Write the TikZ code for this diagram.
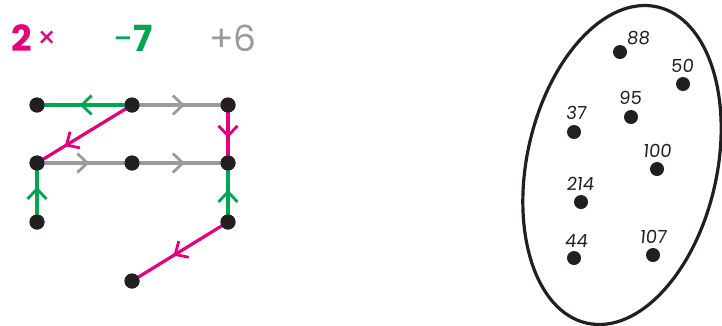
\documentclass[tikz,border=0pt]{standalone}
\usepackage{fontspec}
\setmainfont{Poppins}
\newfontfamily\lblfont[FakeSlant=0.1]{Poppins}
\usetikzlibrary{decorations.markings,shapes.geometric}
\definecolor{pk}{HTML}{E6007E}
\definecolor{gn}{HTML}{00A651}
\definecolor{gy}{HTML}{9A9B9D}
\definecolor{dt}{HTML}{231F20}
\tikzset{
  dot/.style={circle,fill=dt,inner sep=0pt,minimum size=15pt},
  sdot/.style={circle,fill=dt,inner sep=0pt,minimum size=14pt},
  lbl/.style={font=\lblfont\fontsize{18}{18}\selectfont,text=dt,inner sep=0pt},
  edge/.style={line width=3.2pt},
  chev/.style={postaction={decorate,decoration={markings,
    mark=at position #1 with {\draw[line width=2.8pt,line cap=butt,line join=miter] (-10pt,9.5pt) -- (0pt,0pt) -- (-10pt,-9.5pt);}}}},
}
\begin{document}
\begin{tikzpicture}[x=1pt,y=-1pt]
\useasboundingbox (0,0) rectangle (722,325);
% header
\node[text=pk,inner sep=0pt,font=\bfseries\fontsize{36}{36}\selectfont] (h2) at (22,38) {2};
\node[text=pk,inner sep=0pt,font=\fontsize{30}{30}\selectfont] (hx) at (47,40) {×};
\node[text=gn,inner sep=0pt,font=\fontsize{36}{36}\selectfont] (h7) at (133,38) {−\textbf{7}};
\node[text=gy,inner sep=0pt,font=\fontsize{36}{36}\selectfont] (h6) at (233,38) {+6};
% grid nodes
\node[dot] (a1) at (37,105) {};
\node[dot] (a2) at (132,105) {};
\node[dot] (a3) at (228,105) {};
\node[dot] (b1) at (37,163) {};
\node[dot] (b2) at (132,163) {};
\node[dot] (b3) at (228,163) {};
\node[dot] (c1) at (37,222) {};
\node[dot] (c3) at (228,222) {};
\node[dot] (d2) at (132,281) {};
% edges
\draw[edge,gn,chev=0.53] (a2.center) -- (a1.center);
\draw[edge,gy,chev=0.53] (a2.center) -- (a3.center);
\draw[edge,pk,chev=0.53] (a3.center) -- (b3.center);
\draw[edge,pk,chev=0.69] (a2.center) -- (b1.center);
\draw[edge,gy,chev=0.53] (b1.center) -- (b2.center);
\draw[edge,gy,chev=0.53] (b2.center) -- (b3.center);
\draw[edge,gn,chev=0.56] (c1.center) -- (b1.center);
\draw[edge,gn,chev=0.51] (c3.center) -- (b3.center);
\draw[edge,pk,chev=0.55] (c3.center) -- (d2.center);
% redraw dots on top
\foreach \n in {a1,a2,a3,b1,b2,b3,c1,c3,d2} \fill[dt] (\n) circle (7.5pt);
% ellipse
\node[draw=dt,line width=3.2pt,ellipse,minimum width=190pt,minimum height=324pt,inner sep=0pt,rotate=-12.5] (ell) at (622,165) {};
% set dots
\node[sdot] (p88) at (620,52) {};
\node[sdot] (p50) at (683,84) {};
\node[sdot] (p95) at (631,117) {};
\node[sdot] (p37) at (574,132) {};
\node[sdot] (p100) at (657,169) {};
\node[sdot] (p214) at (581,202) {};
\node[sdot] (p44) at (574,258) {};
\node[sdot] (p107) at (653,255) {};
\node[lbl] (l88) at (638,38) {88};
\node[lbl] (l50) at (682,66) {50};
\node[lbl] (l95) at (630,98) {95};
\node[lbl] (l37) at (576,113) {37};
\node[lbl] (l100) at (657,151) {100};
\node[lbl] (l214) at (580,184) {214};
\node[lbl] (l44) at (576,241) {44};
\node[lbl] (l107) at (653,237) {107};
\end{tikzpicture}
\end{document}
